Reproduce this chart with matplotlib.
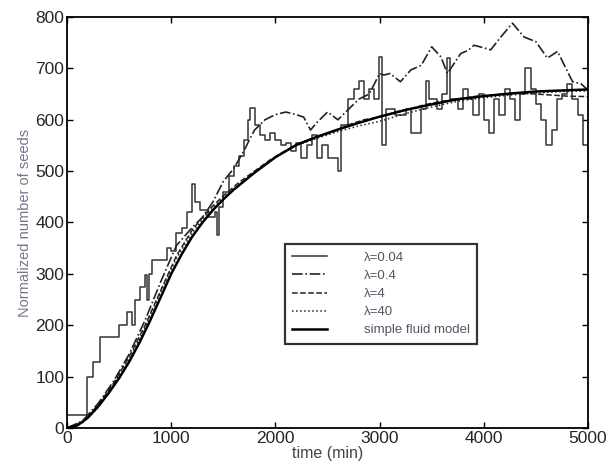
import matplotlib
matplotlib.use("Agg")
import matplotlib.pyplot as plt
import numpy as np

plt.rcParams['font.family'] = ['Liberation Sans', 'DejaVu Sans']

# ---- data ----
fluid_t = [0, 100, 200, 300, 400, 500, 600, 700, 800, 900, 1000, 1100, 1200, 1300,
           1400, 1500, 1600, 1800, 2000, 2200, 2400, 2600, 2800, 3000, 3250, 3500,
           3750, 4000, 4250, 4500, 4750, 5000]
fluid_v = [0, 5, 20, 42, 68, 97, 130, 168, 210, 255, 300, 338, 372, 400,
           424, 445, 464, 497, 527, 551, 567, 581, 594, 606, 619, 630,
           640, 646, 651, 655, 657, 659]

lam40_t = [0, 150, 300, 450, 600, 750, 900, 1050, 1200, 1350, 1500, 1650, 1800,
           2000, 2200, 2400, 2600, 2800, 3000, 3250, 3500, 3750, 4000, 4250,
           4500, 4750, 5000]
lam40_v = [0, 10, 40, 85, 135, 195, 265, 330, 380, 418, 448, 472, 497,
           528, 550, 564, 577, 588, 597, 612, 625, 636, 643, 648, 652, 655, 656]

lam4_t = [0, 150, 300, 450, 600, 750, 900, 1050, 1200, 1350, 1500, 1650, 1800,
          1950, 2100, 2250, 2400, 2550, 2700, 2850, 3000, 3150, 3300, 3450, 3600,
          3750, 3900, 4050, 4200, 4350, 4500, 4650, 4800, 5000]
lam4_v = [0, 12, 45, 88, 140, 200, 268, 335, 385, 422, 452, 478, 500,
          522, 540, 555, 566, 576, 590, 600, 605, 615, 622, 630, 636,
          640, 645, 648, 650, 652, 650, 648, 646, 645]

lam04_t = [0, 150, 300, 450, 600, 750, 900, 1050, 1200, 1300, 1400, 1500, 1600,
           1700, 1760, 1800, 1850, 1900, 2000, 2100, 2200, 2272, 2337, 2400,
           2500, 2600, 2700, 2800, 2900, 3000, 3040, 3100, 3200, 3300, 3400,
           3500, 3590, 3650, 3700, 3779, 3850, 3906, 4000, 4066, 4163, 4275,
           4387, 4500, 4610, 4708, 4788, 4852, 4932, 5000]
lam04_v = [0, 14, 48, 92, 145, 210, 285, 355, 390, 410, 440, 480, 505,
           540, 565, 580, 590, 600, 610, 615, 610, 605, 580, 595,
           615, 600, 620, 640, 650, 690, 687, 690, 674, 697, 706,
           742, 722, 690, 705, 729, 735, 745, 740, 736, 761, 788,
           761, 752, 720, 733, 700, 674, 670, 658]

lam004_t = [0, 190, 253, 317, 500, 575, 620, 650, 700, 750, 770, 790, 815, 960,
            1000, 1050, 1100, 1150, 1200, 1230, 1280, 1350, 1420, 1440, 1460,
            1500, 1550, 1600, 1650, 1700, 1740, 1760, 1800, 1850, 1900, 1950,
            2000, 2050, 2100, 2150, 2200, 2250, 2300, 2350, 2400, 2450, 2500,
            2600, 2630, 2700, 2750, 2800, 2850, 2900, 2950, 2990, 3020, 3060,
            3150, 3250, 3300, 3400, 3450, 3470, 3550, 3600, 3650, 3680, 3750,
            3800, 3850, 3900, 3950, 4000, 4050, 4100, 4150, 4200, 4250, 4300,
            4350, 4400, 4450, 4500, 4550, 4600, 4650, 4700, 4750, 4800, 4850,
            4900, 4950, 5000]
lam004_v = [25, 100, 129, 178, 200, 225, 200, 250, 275, 298, 250, 300, 327, 350,
            345, 380, 390, 420, 475, 440, 425, 410, 420, 375, 430,
            460, 490, 510, 530, 560, 600, 623, 590, 570, 560, 575,
            560, 550, 555, 540, 555, 525, 550, 570, 525, 550, 525,
            500, 590, 640, 660, 675, 640, 660, 640, 722, 550, 620,
            610, 620, 575, 620, 675, 640, 620, 650, 720, 640, 620,
            660, 640, 610, 650, 600, 575, 640, 610, 660, 640, 600,
            650, 700, 660, 630, 600, 550, 580, 640, 650, 670, 640,
            610, 550, 545]

labels = ['λ=0.04', 'λ=0.4', 'λ=4', 'λ=40', 'simple fluid model']
xticks = [0, 1000, 2000, 3000, 4000, 5000]
yticks = [0, 100, 200, 300, 400, 500, 600, 700, 800]

# ---- figure ----
fig = plt.figure(figsize=(6.11, 4.70), dpi=100)
ax = fig.add_axes([67/611, 1 - 428/470, (588-67)/611, (428-17)/470])

ax.plot(lam004_t, lam004_v, color='#333333', lw=1.1, drawstyle='steps-post',
        label=labels[0])
ax.plot(lam04_t, lam04_v, color='#222222', lw=1.2, linestyle='-.',
        label=labels[1])
ax.plot(lam4_t, lam4_v, color='#222222', lw=1.1, linestyle='--',
        label=labels[2])
ax.plot(lam40_t, lam40_v, color='#222222', lw=1.1, linestyle=':',
        label=labels[3])
ax.plot(fluid_t, fluid_v, color='black', lw=1.8, label=labels[4])

ax.set_xlim(0, 5000)
ax.set_ylim(0, 800)
ax.set_xticks(xticks)
ax.set_yticks(yticks)
ax.tick_params(direction='in', top=True, right=True, length=4, width=1.0,
               labelsize=12.5, labelcolor='#2a2525', pad=2)
for s in ax.spines.values():
    s.set_linewidth(1.3)

ax.set_xlabel('time (min)', fontsize=11.5, color='#4a4040', labelpad=0)
ax.set_ylabel('Normalized number of seeds', fontsize=10.5, color='#707888',
              labelpad=2)

leg = ax.legend(loc='upper left', bbox_to_anchor=(0.418, 0.447),
                fontsize=9.5, frameon=True, fancybox=False, handlelength=2.65,
                borderpad=0.55, labelspacing=0.45, handletextpad=2.8,
                borderaxespad=0)
leg.get_frame().set_edgecolor('black')
leg.get_frame().set_linewidth(1.6)
for t in leg.get_texts():
    t.set_color('#555566')

fig.savefig('out.png', dpi=100)
